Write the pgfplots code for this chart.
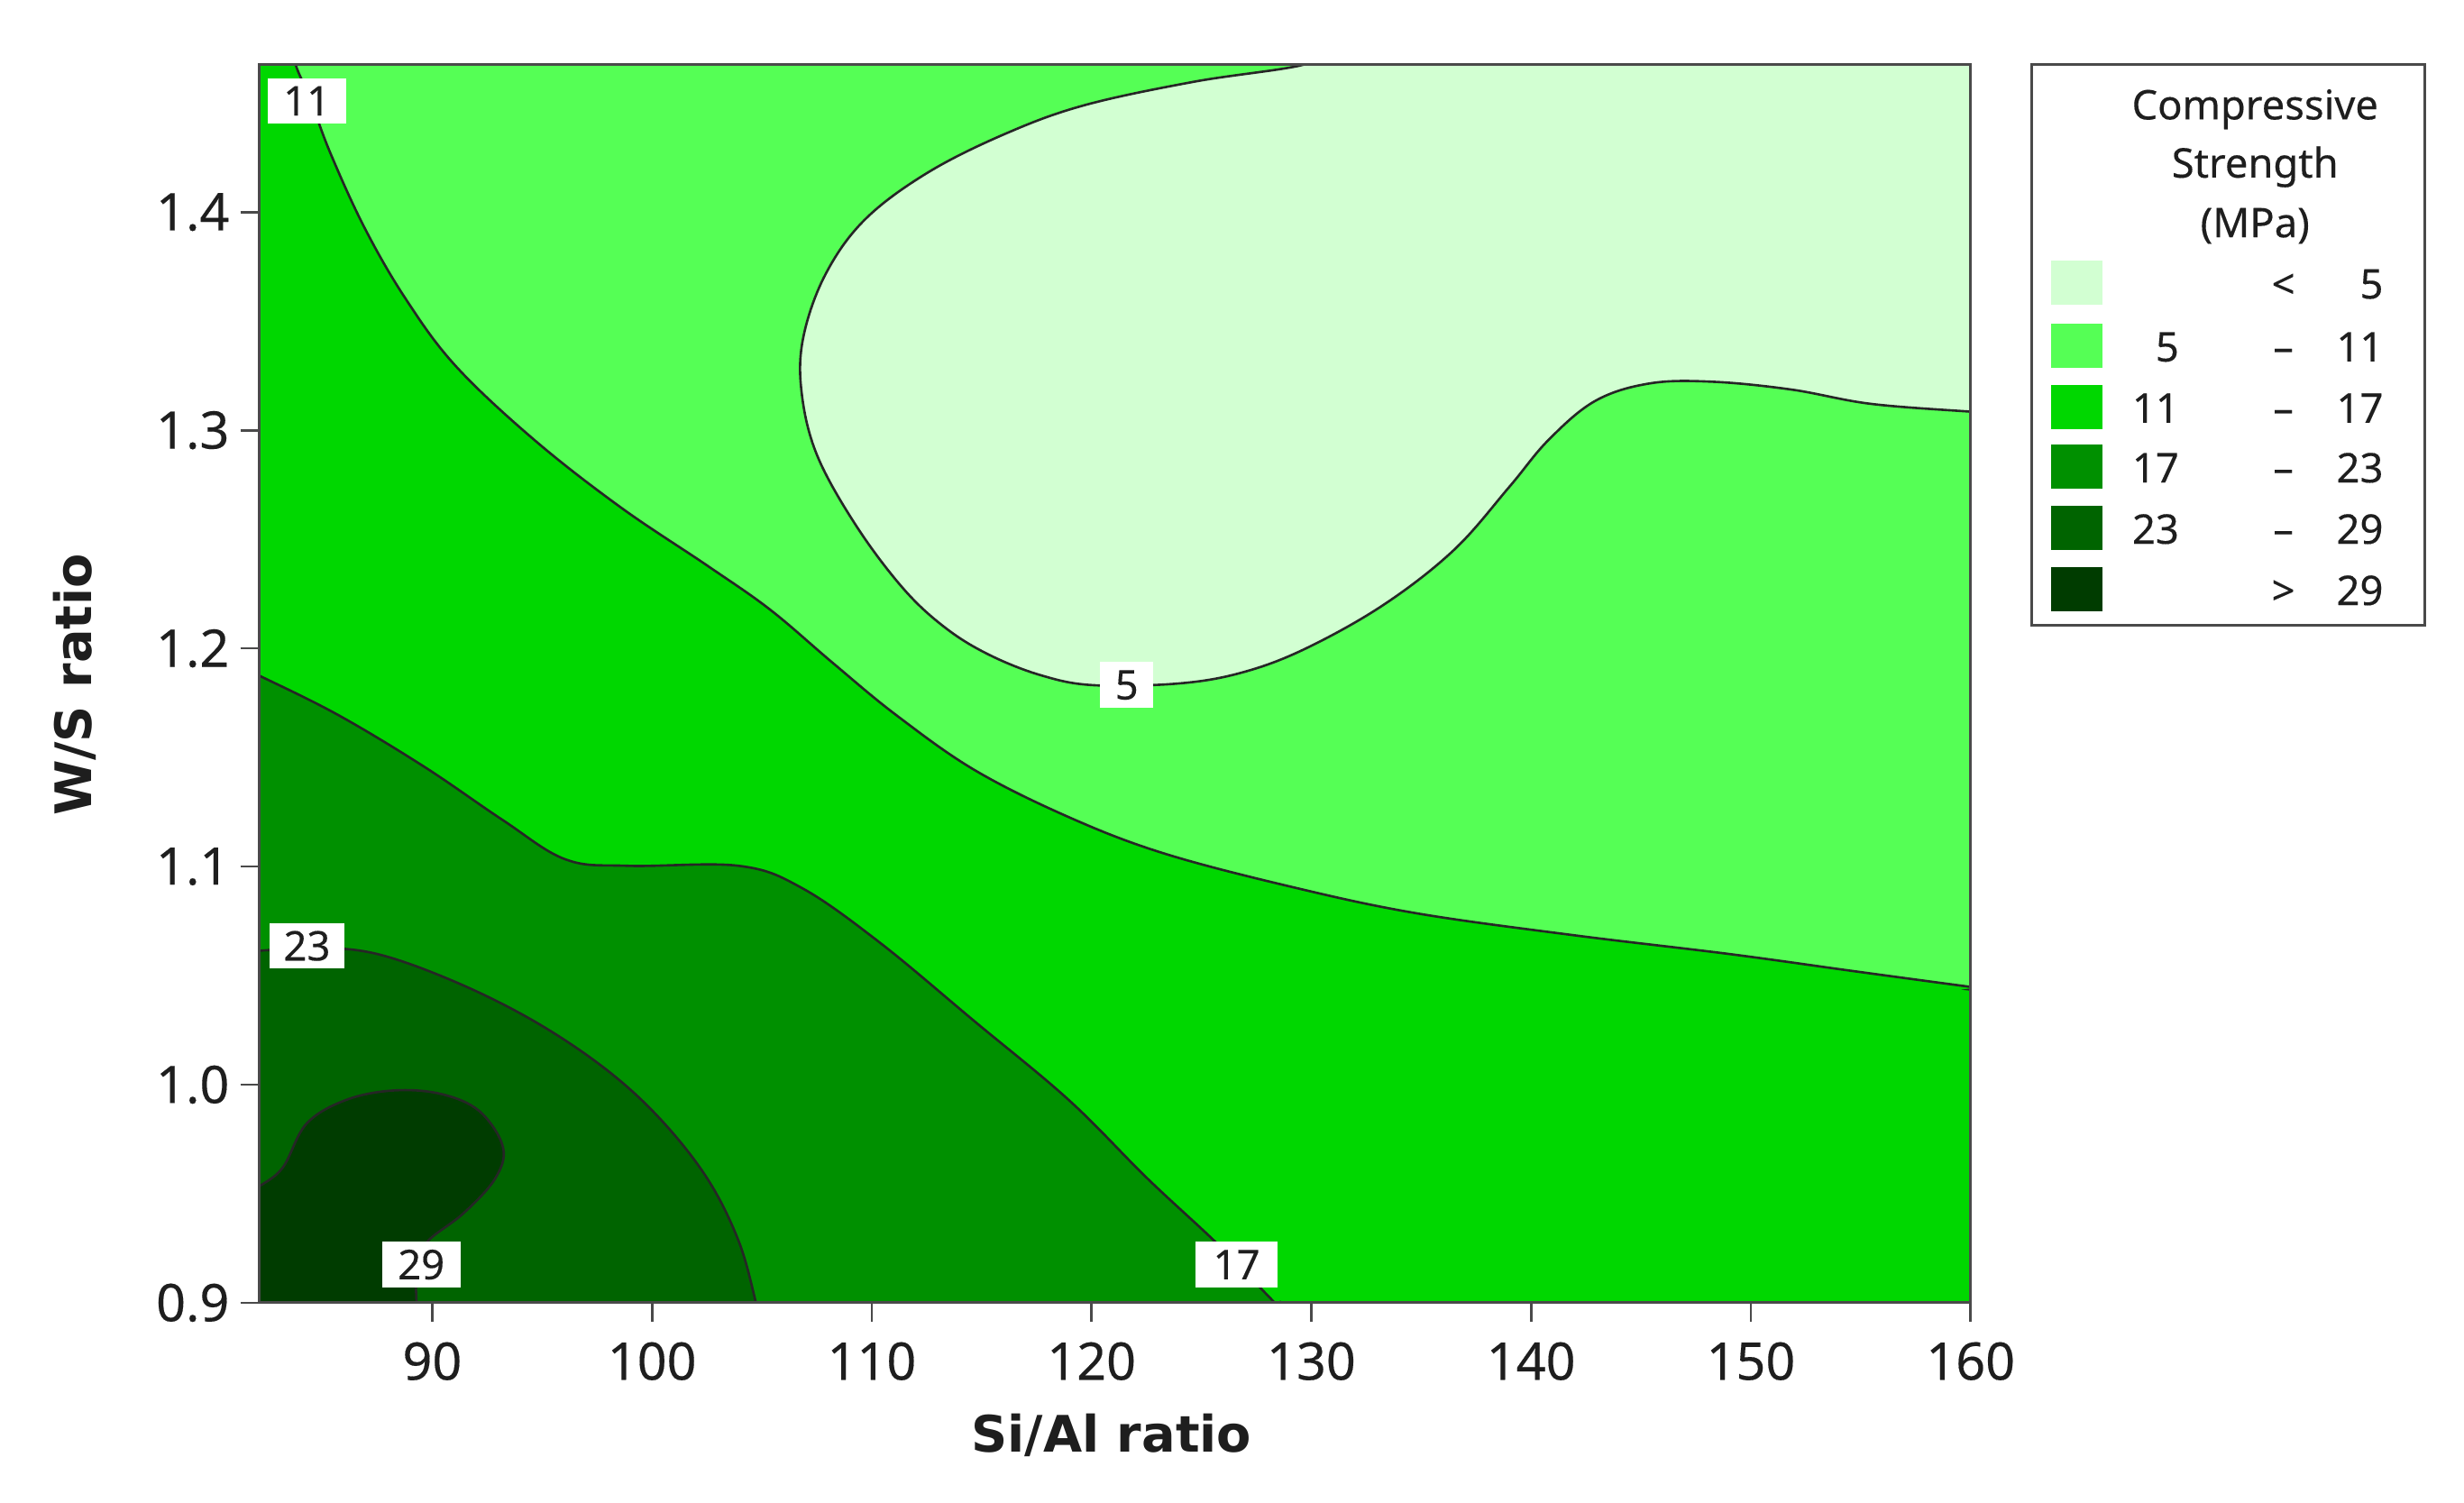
\documentclass[border=0pt]{standalone}
\usepackage{pgfplots}
\usepackage{fontspec}
\setmainfont{Noto Sans}
\newfontfamily\labf{DejaVu Sans}
\newfontfamily\heavy{Noto Sans}[FakeBold=0.25]
\pgfplotsset{compat=1.18}
\definecolor{cA}{HTML}{D2FFD2}
\definecolor{cB}{HTML}{55FF55}
\definecolor{cC}{HTML}{00D700}
\definecolor{cD}{HTML}{009000}
\definecolor{cE}{HTML}{006400}
\definecolor{cF}{HTML}{003C00}
\definecolor{txt}{HTML}{1E1E1E}
\definecolor{frame}{HTML}{4A4A4A}
\newcommand{\tfs}{\fontsize{16.5}{19}\selectfont}
\newcommand{\lfs}{\fontsize{13}{16}\selectfont}
\newcommand{\cfs}{\fontsize{13}{16}\selectfont}
\begin{document}
\begin{tikzpicture}[x=0.5pt,y=0.5pt]
\path[use as bounding box] (0,-6) rectangle (1568,950);
\begin{axis}[
  at={(82.5pt,60.5pt)}, anchor=south west,
  scale only axis, width=544.5pt, height=394pt,
  xmin=82.13, xmax=160, ymin=0.9, ymax=1.4677,
  xtick={90,100,110,120,130,140,150,160},
  ytick={0.9,1.0,1.1,1.2,1.3,1.4},
  tick align=outside, xtick pos=bottom, ytick pos=left,
  major tick length=6pt,
  tick style={color=frame,line width=0.8pt},
  axis line style={color=frame,line width=0.9pt},
  axis on top,
  axis background/.style={fill=cB},
  tick label style={font=\tfs\heavy,color=txt},
  yticklabel style={/pgf/number format/fixed,/pgf/number format/fixed zerofill,/pgf/number format/precision=1,/pgf/number format/assume math mode=true},
  xticklabel style={/pgf/number format/assume math mode=true,yshift=-3pt},
  xlabel={Si/Al ratio},
  ylabel={W/S ratio},
  label style={font=\fontsize{16}{19}\selectfont\labf\bfseries,color=txt},
  xlabel style={at={(axis description cs:0.498,-0.107)},anchor=center},
  ylabel style={at={(axis description cs:-0.108,0.499)},anchor=center},
  contour/.style={smooth,tension=0.6,draw=black!85,line width=0.75pt},
]
% <5 region
\addplot[contour,fill=cA] coordinates {
(130.4,1.4756)(129.7,1.4677)(124.69,1.4598)(119.68,1.449)(116.1,1.436)(112.53,1.418)(109.67,1.3964)(107.88,1.3712)(106.88,1.3424)(106.81,1.3171)(107.52,1.2883)(109.31,1.2559)(111.46,1.2271)(113.39,1.2091)(115.39,1.1968)(117.75,1.1875)(120.11,1.1831)(123.97,1.1839)(126.84,1.1889)(129.7,1.1997)(133.28,1.2199)(136.49,1.2451)(139.0,1.2739)(140.79,1.2955)(142.93,1.3135)(145.43,1.3215)(148.3,1.3222)(151.87,1.3186)(155.45,1.3121)(160,1.3085)(161.2,1.3078)(175,1.3078)(175,1.6)(130.4,1.6)};
% 11 contour
\addplot[contour,fill=cC] coordinates {
(83.49,1.483)(83.78,1.4677)(84.42,1.4526)(85.35,1.4274)(86.92,1.3928)(88.78,1.3604)(91.07,1.3294)(94.65,1.2955)(98.58,1.2646)(102.52,1.2379)(105.38,1.2177)(108.24,1.1932)(111.1,1.1695)(114.68,1.1442)(118.97,1.1226)(123.26,1.1061)(129.0,1.0909)(134.7,1.0787)(141.86,1.0686)(149.0,1.0599)(154.7,1.052)(160,1.0448)(161.2,1.0434)(175,1.0434)(170,0.8)(75,0.8)(75,1.49)};
% 17 contour
\addplot[contour,fill=cD] coordinates {
(81.06,1.1925)(82.13,1.1875)(85.71,1.1695)(89.64,1.1457)(93.22,1.1212)(96.08,1.1032)(98.94,1.1003)(103.95,1.1003)(106.81,1.0902)(110.38,1.065)(114.68,1.029)(118.97,0.9929)(122.55,0.9569)(125.76,0.9267)(128.34,0.9)(129.2,0.892)(135,0.8)(75,0.8)(75,1.2)};
% 23 contour
\addplot[contour,fill=cE] coordinates {
(81.06,1.0614)(82.13,1.0614)(84.63,1.0628)(87.49,1.0599)(91.07,1.047)(94.65,1.029)(97.87,1.0073)(100.37,0.9843)(102.52,0.9569)(103.95,0.9281)(104.73,0.9)(104.95,0.8885)(110,0.8)(75,0.8)(75,1.06)};
% 29 contour
\addplot[contour,fill=cF] coordinates {
(81.06,0.9461)(82.13,0.9533)(83.2,0.962)(84.28,0.9821)(86.06,0.9929)(88.21,0.9973)(90.36,0.9958)(92.14,0.9879)(93.22,0.9713)(92.86,0.9569)(91.43,0.9411)(89.78,0.9281)(89.28,0.9173)(89.28,0.9)(89.28,0.8885)(85,0.8)(75,0.8)(75,0.946)};
% contour labels
\tikzset{clab/.style={fill=white,text=txt,inner sep=0pt,minimum height=14.5pt,font=\cfs\heavy}}
\node[clab,minimum width=25pt] at (axis cs:84.29,1.451) {11};
\node[clab,minimum width=17pt] at (axis cs:121.6,1.1832) {5};
\node[clab,minimum width=24pt] at (axis cs:84.3,1.0636) {23};
\node[clab,minimum width=25pt] at (axis cs:89.5,0.9175) {29};
\node[clab,minimum width=26pt] at (axis cs:126.6,0.9175) {17};
\end{axis}
% legend
\draw[color=frame,line width=1pt,fill=white] (1293,552) rectangle (1543,909);
\foreach \yy/\cc/\lo/\op/\hi in {770/cA//</5,730/cB/5/–/11,691/cC/11/–/17,653/cD/17/–/23,614/cE/23/–/29,575/cF//>/29}{
  \fill[\cc] (1305,\yy-14) rectangle (1338,\yy+14);
  \node[anchor=base east,inner sep=0pt,font=\lfs\heavy,text=txt] at (1387,\yy-10) {\lo};
  \node[anchor=base,inner sep=0pt,font=\lfs\heavy,text=txt] at (1453,\yy-10) {\op};
  \node[anchor=base east,inner sep=0pt,font=\lfs\heavy,text=txt] at (1517,\yy-10) {\hi};
}
\node[anchor=base,inner sep=0pt,font=\lfs\heavy,text=txt] at (1435,874) {Compressive};
\node[anchor=base,inner sep=0pt,font=\lfs\heavy,text=txt] at (1435,837) {Strength};
\node[anchor=base,inner sep=0pt,font=\lfs\heavy,text=txt] at (1435,799) {(MPa)};
\end{tikzpicture}
\end{document}
